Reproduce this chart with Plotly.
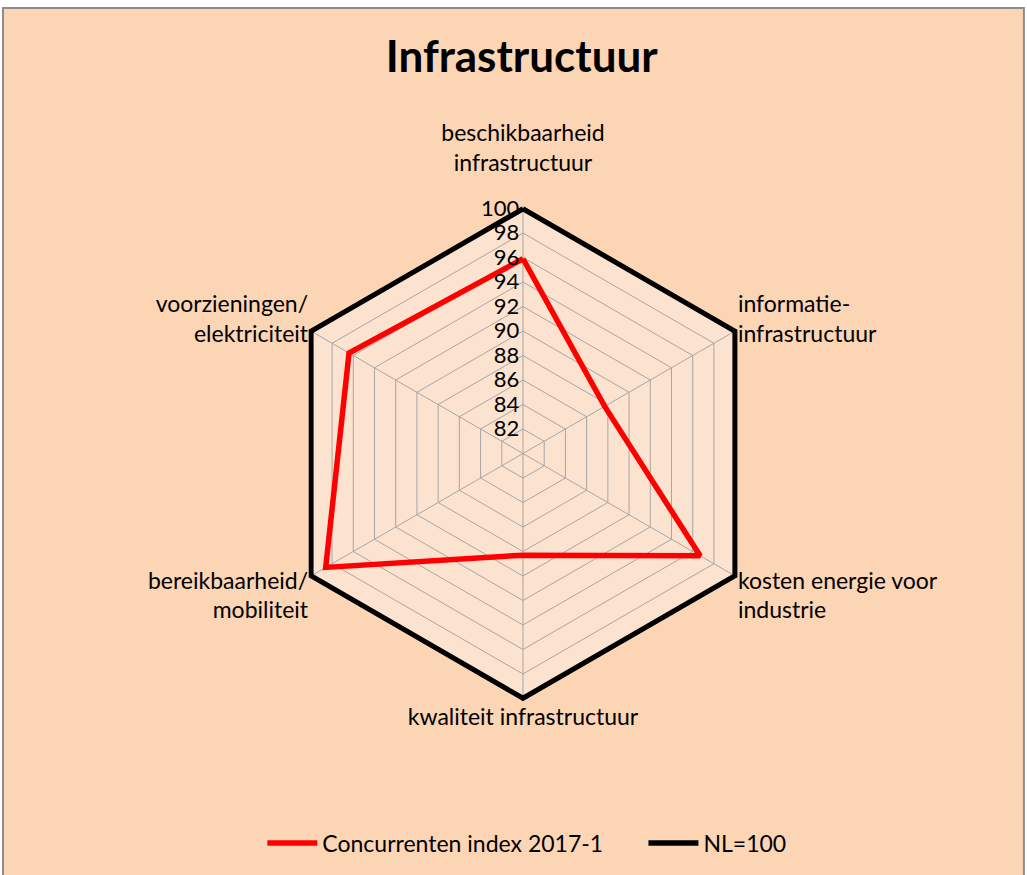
import plotly.graph_objects as go

categories = ["beschikbaarheid<br>infrastructuur<br>", "informatie-<br>infrastructuur",
              "kosten energie voor<br>industrie", "kwaliteit infrastructuur",
              "bereikbaarheid/<br>mobiliteit", "voorzieningen/<br>elektriciteit"]
concurrenten = [95.9, 87.7, 96.7, 88.3, 98.6, 96.4]
nl = [100, 100, 100, 100, 100, 100]
tick_vals = [82, 84, 86, 88, 90, 92, 94, 96, 98, 100]

FONT = "Lato"
NB = "\u00a0"

def closed(v):
    return list(v) + [v[0]]

fig = go.Figure()
fig.add_trace(go.Scatterpolar(r=closed(concurrenten), theta=closed(categories), mode="lines",
                              line=dict(color="#FF0000", width=5.5), cliponaxis=False,
                              name="Concurrenten index 2017-1" + NB * 6))
fig.add_trace(go.Scatterpolar(r=closed(nl), theta=closed(categories), mode="lines",
                              line=dict(color="#000000", width=5.5), cliponaxis=False,
                              name="NL=100"))

fig.update_layout(
    width=1027, height=875,
    paper_bgcolor="white",
    margin=dict(l=0, r=0, t=0, b=0),
    font=dict(family=FONT, size=23, color="black"),
    title=dict(text="<b>Infrastructuur</b>", x=0.508, xanchor="center", y=0.935, yanchor="middle",
               font=dict(family=FONT, size=44, color="black")),
    polar=dict(
        domain=dict(x=[0.2681, 0.7504], y=[0.1986, 0.7648]),
        bgcolor="#FCE3CF",
        gridshape="linear",
        radialaxis=dict(range=[80, 100.22], tickvals=tick_vals, angle=90, tickangle=90,
                        showline=False, ticks="", gridcolor="#A6A6A6", gridwidth=1,
                        side="counterclockwise",
                        tickfont=dict(family=FONT, size=22, color="black")),
        angularaxis=dict(rotation=90, direction="clockwise", showline=False,
                         gridcolor="#A6A6A6", gridwidth=1, ticks="",
                         tickfont=dict(family=FONT, size=23, color="black")),
    ),
    legend=dict(orientation="h", x=0.513, xanchor="center", y=0.0366, yanchor="middle",
                bgcolor="rgba(0,0,0,0)", font=dict(family=FONT, size=23), itemwidth=50),
    shapes=[dict(type="rect", xref="paper", yref="paper", x0=0.0029, x1=0.997, y0=-0.01, y1=0.9909,
                 fillcolor="#FCD5B5", line=dict(color="#8C8C8C", width=2), layer="below")],
)

fig.write_html("out.html", config={"displayModeBar": False},
               post_script="document.body.style.margin='0';")
